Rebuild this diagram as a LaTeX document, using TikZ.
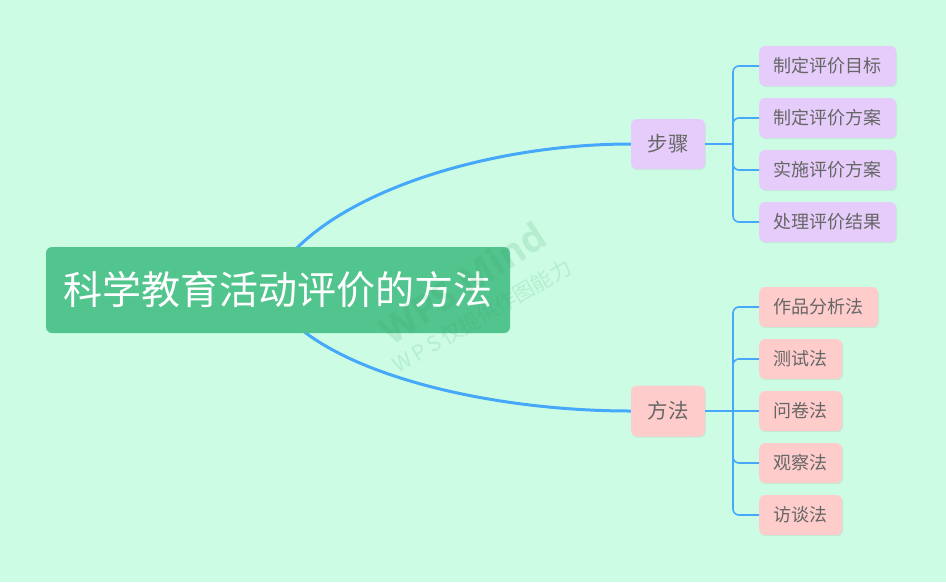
\documentclass[tikz,border=0pt]{standalone}
\usepackage{fontspec}
\newfontfamily\cjk{Noto Sans CJK SC}
\newfontfamily\wmfont{Open Sans}
\usetikzlibrary{backgrounds,shadows}
\definecolor{bgc}{HTML}{CCFCE4}
\definecolor{rootc}{HTML}{52C48D}
\definecolor{lavc}{HTML}{E5CCFA}
\definecolor{pinkc}{HTML}{FFCCCC}
\definecolor{linec}{HTML}{45A8FA}
\definecolor{txtc}{HTML}{666666}
\definecolor{wmc}{HTML}{2E9E62}
\tikzset{
  rootbox/.style={fill=rootc, rounded corners=6pt, minimum width=464pt, minimum height=86pt,
    inner sep=0pt, text=white, font=\cjk\fontsize{39}{40}\selectfont},
  parentbox/.style={rounded corners=6pt, minimum width=74pt, minimum height=50pt, inner sep=0pt,
    text=txtc, font=\cjk\fontsize{20.5}{21}\selectfont,
    drop shadow={opacity=0.12, shadow xshift=0.8pt, shadow yshift=-1.2pt}},
  leafbox/.style={rounded corners=6pt, minimum height=40pt, inner xsep=14.5pt, inner ysep=0pt,
    text=txtc, font=\cjk\fontsize{18}{18}\selectfont, anchor=west,
    drop shadow={opacity=0.12, shadow xshift=0.8pt, shadow yshift=-1.2pt}},
  mainline/.style={draw=linec, line width=3pt},
  brline/.style={draw=linec, line width=1.6pt, rounded corners=6pt},
}
\begin{document}
\begin{tikzpicture}[x=1pt,y=-1pt]
\fill[bgc] (0,0) rectangle (946,582);
\useasboundingbox (0,0) rectangle (946,582);

% parents
\node[parentbox, fill=lavc] (s1) at (668,144) {步骤};
\node[parentbox, fill=pinkc, minimum height=51pt] (s2) at (668,411) {方法};

% leaves
\node[leafbox, fill=lavc] (a1) at (759,66) {制定评价目标};
\node[leafbox, fill=lavc] (a2) at (759,118) {制定评价方案};
\node[leafbox, fill=lavc] (a3) at (759,170) {实施评价方案};
\node[leafbox, fill=lavc] (a4) at (759,222) {处理评价结果};

\node[leafbox, fill=pinkc] (b1) at (759,307) {作品分析法};
\node[leafbox, fill=pinkc] (b2) at (759,359) {测试法};
\node[leafbox, fill=pinkc] (b3) at (759,411) {问卷法};
\node[leafbox, fill=pinkc] (b4) at (759,463) {观察法};
\node[leafbox, fill=pinkc] (b5) at (759,515) {访谈法};

% junctions
\coordinate (j1) at (733,144);
\coordinate (j2) at (733,411);
\draw[brline] (s1.east) -- (j1);
\foreach \c in {a1,a2,a3,a4} \draw[brline] (j1) |- (\c.west);
\draw[brline] (s2.east) -- (j2);
\foreach \c in {b1,b2,b4,b5} \draw[brline] (j2) |- (\c.west);
\draw[brline] (j2) -- (b3.west);

% main curves
\coordinate (r1) at (295,250);
\coordinate (r2) at (302,330);
\draw[mainline] (r1) .. controls (358,185) and (500,144) .. (s1.west);
\draw[mainline] (r2) .. controls (365,380) and (500,411) .. (s2.west);

% root
\node[rootbox] (root) at (278,290) {科学教育活动评价的方法};

% watermark
\node[rotate=33, text=wmc, opacity=0.15, font=\wmfont\bfseries\fontsize{38}{38}\selectfont] (wm1) at (463,283) {WPS Mind};
\node[rotate=30, text=wmc, opacity=0.15, font=\cjk\fontsize{21}{21}\selectfont] (wm2) at (482,316) {W\,P\,S\,仅提供作图能力};
\end{tikzpicture}
\end{document}
